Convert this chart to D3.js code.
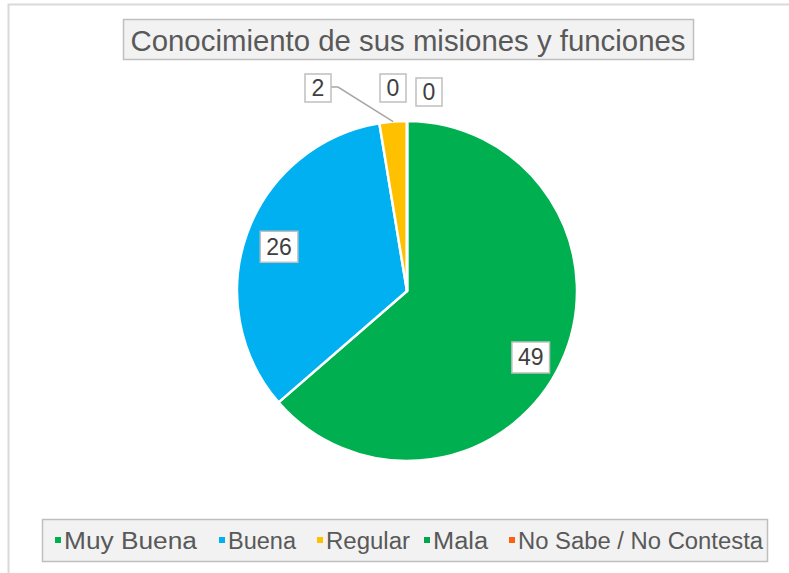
<!DOCTYPE html>
<html><head><meta charset="utf-8">
<script src="https://cdn.jsdelivr.net/npm/d3@7"></script>
<style>html,body{margin:0;padding:0;background:#fff;}svg{display:block;}</style>
</head><body>
<svg id="chart" width="789" height="573"></svg>
<script>
const title = "Conocimiento de sus misiones y funciones";
const categories = ["Muy Buena", "Buena", "Regular", "Mala", "No Sabe / No Contesta"];
const values = [49, 26, 2, 0, 0];
const colors = ["#00b050", "#00b0f0", "#ffc000", "#00a550", "#ff6010"];

const W = 789, H = 573;
const svg = d3.select("#chart");
const font = "'Liberation Sans', Arial, sans-serif";

// outer chart border
svg.append("rect").attr("x", 8.5).attr("y", 4.5).attr("width", 800).attr("height", 620)
  .attr("fill", "#fff").attr("stroke", "#d9d9d9").attr("stroke-width", 2);

// title
const tg = svg.append("g");
tg.append("rect").attr("x", 123.5).attr("y", 19.5).attr("width", 570).attr("height", 40)
  .attr("fill", "#f2f2f2").attr("stroke", "#bfbfbf").attr("stroke-width", 1.5);
tg.append("text").attr("x", 408).attr("y", 51).attr("text-anchor", "middle")
  .attr("font-family", font).attr("font-size", 30).attr("fill", "#595959")
  .attr("textLength", 555).attr("lengthAdjust", "spacingAndGlyphs").text(title);

// pie
const cx = 407, cy = 291, R = 170;
const pie = d3.pie().sort(null).value(d => d).startAngle(0).endAngle(2 * Math.PI);
const arcs = pie(values);
const arc = d3.arc().innerRadius(0).outerRadius(R);
const g = svg.append("g").attr("transform", `translate(${cx},${cy})`);
g.selectAll("path").data(arcs).join("path")
  .attr("d", arc).attr("fill", (d, i) => colors[i])
  .attr("stroke", "#fff").attr("stroke-width", 2.5).attr("stroke-linejoin", "round");

// labels
const inArc = d3.arc().innerRadius(R * 0.8).outerRadius(R * 0.8);
function labelBox(x, y, txt, h) {
  const lg = g.append("g");
  const t = lg.append("text").attr("x", x).attr("y", y + 8).attr("text-anchor", "middle")
    .attr("font-family", font).attr("font-size", 23).attr("fill", "#404040").text(txt);
  const w = Math.max(t.node().getComputedTextLength() + 12, 26);
  lg.insert("rect", "text").attr("x", x - w / 2).attr("y", y - h / 2).attr("width", w).attr("height", h)
    .attr("fill", "#fff").attr("stroke", "#bfbfbf").attr("stroke-width", 1.5);
  return { x, y, w, h };
}
const total = d3.sum(values);
let outsideIdx = 0;
const outsideOffsets = [[-89, -203], [-14, -203], [22, -199]];
arcs.forEach((d, i) => {
  const frac = d.value / total;
  if (frac > 0.1) {
    const [x, y] = inArc.centroid(d);
    labelBox(x, y + (i === 0 ? 10 : 2), String(d.value), 31);
  } else {
    const [ox, oy] = outsideOffsets[outsideIdx++];
    const b = labelBox(ox, oy, String(d.value), 28);
    if (d.value > 0) {
      const mid = (d.startAngle + d.endAngle) / 2;
      const ex = Math.sin(mid) * R, ey = -Math.cos(mid) * R;
      g.insert("path", "g").attr("d", `M${b.x + b.w / 2},${b.y - 1} L${b.x + b.w / 2 + 7},${b.y - 1} L${ex},${ey}`)
        .attr("fill", "none").attr("stroke", "#a6a6a6").attr("stroke-width", 1.5);
    }
  }
});

// legend
const lgG = svg.append("g");
lgG.append("rect").attr("x", 42.5).attr("y", 519.5).attr("width", 725).attr("height", 42)
  .attr("fill", "#f2f2f2").attr("stroke", "#bfbfbf").attr("stroke-width", 1.5);
const legendX = [64, 228, 326, 433, 518];
const legendW = [133, 68, 84, 55, 245];
categories.forEach((c, i) => {
  const x = legendX[i];
  lgG.append("rect").attr("x", x - 9).attr("y", 537).attr("width", 6).attr("height", 6).attr("fill", colors[i]);
  lgG.append("text").attr("x", x).attr("y", 549).attr("font-family", font).attr("font-size", 23)
    .attr("fill", "#595959").attr("textLength", legendW[i]).attr("lengthAdjust", "spacingAndGlyphs").text(c);
});
</script>
</body></html>
